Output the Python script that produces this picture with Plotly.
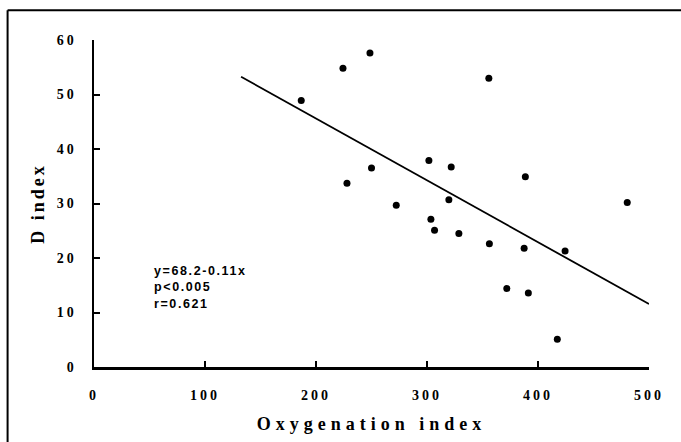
import plotly.graph_objects as go

# Data
oxygenation_index = [186.7, 224.3, 248.6, 227.9, 250.0, 272.3, 301.7, 303.5, 306.8, 319.7,
                     321.8, 328.7, 355.7, 356.2, 371.9, 387.5, 388.6, 391.3, 417.4, 424.4, 480.4]
d_index = [48.9, 54.8, 57.6, 33.7, 36.5, 29.7, 37.9, 27.1, 25.1, 30.7,
           36.7, 24.5, 53.0, 22.6, 14.4, 21.8, 34.9, 13.6, 5.1, 21.3, 30.2]

fit_intercept = 68.3
fit_slope = -0.1135
fit_x_range = [132.5, 500.0]

x_ticks = [0, 100, 200, 300, 400, 500]
y_ticks = [0, 10, 20, 30, 40, 50, 60]

annotation_lines = ["y=68.2-0.11x", "p<0.005", "r=0.621"]

fit_y = [fit_intercept + fit_slope * v for v in fit_x_range]

serif = "Liberation Serif"

fig = go.Figure()
fig.add_trace(go.Scatter(
    x=fit_x_range, y=fit_y, mode="lines",
    line=dict(color="black", width=1.8), hoverinfo="skip", showlegend=False,
))
fig.add_trace(go.Scatter(
    x=oxygenation_index, y=d_index, mode="markers",
    marker=dict(color="black", size=7), showlegend=False,
))

axis_common = dict(
    showgrid=False, zeroline=False, showline=True, linecolor="black", linewidth=2.5,
    ticks="inside", ticklen=6, tickwidth=2, tickcolor="black",
    tickfont=dict(family=serif, size=14, color="black", weight="bold"),
)

fig.update_layout(
    width=681, height=442,
    margin=dict(l=94, r=32, t=40, b=75),
    paper_bgcolor="white", plot_bgcolor="white",
    xaxis=dict(range=[0, 500], tickvals=x_ticks, ticklabelstandoff=14,
               title=dict(text="Oxygenation index", standoff=15,
                          font=dict(family=serif, size=18, color="black", weight="bold")),
               **axis_common),
    yaxis=dict(range=[0, 60], tickvals=y_ticks, ticklabelstandoff=12,
               title=dict(text="D index", standoff=14,
                          font=dict(family=serif, size=18, color="black", weight="bold")),
               **axis_common),
    annotations=[dict(
        x=52, y=14.6, xref="x", yref="y", xanchor="left", yanchor="middle",
        text="<br>".join(annotation_lines), showarrow=False, align="left",
        font=dict(family="Liberation Sans", size=12.5, color="black", weight="bold"),
    )],
    shapes=[
        dict(type="line", xref="paper", yref="paper", x0=-0.1557, x1=1.1, y0=1.0907, y1=1.0907,
             line=dict(color="black", width=2)),
        dict(type="line", xref="paper", yref="paper", x0=-0.1557, x1=-0.1557, y0=1.0907, y1=-0.3,
             line=dict(color="black", width=2)),
    ],
)

post = """
document.body.style.margin = '0';
document.body.style.padding = '0';
var s = document.createElement('style');
s.innerHTML = '.xtick text, .ytick text {letter-spacing: 3px;} .xtitle {letter-spacing: 5px;} .ytitle {letter-spacing: 3px;} .annotation-text {letter-spacing: 1.6px;}';
document.head.appendChild(s);
"""
fig.write_html("out.html", post_script=post, config={"displayModeBar": False, "staticPlot": True})
